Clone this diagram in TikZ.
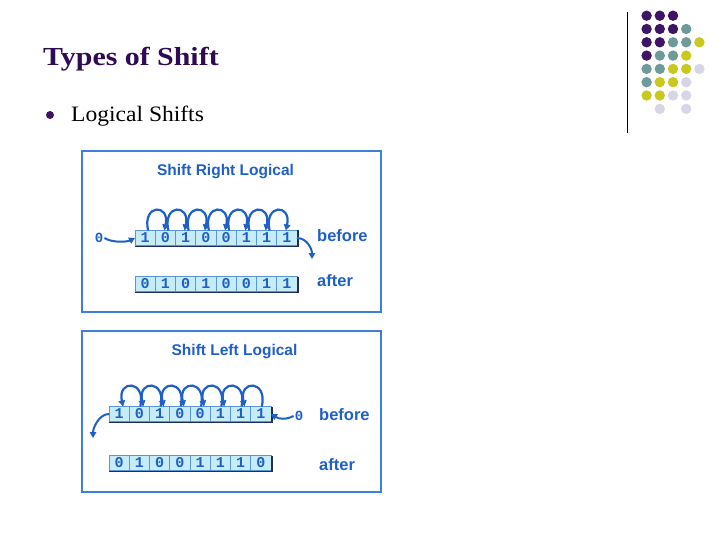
\documentclass[tikz,border=0pt]{standalone}
\usepackage{graphicx}
\usepackage{fontspec}
\setmainfont{Liberation Serif}
\setsansfont{Liberation Sans}
\setmonofont{Liberation Mono}
\usetikzlibrary{arrows.meta, positioning, calc}
\definecolor{slidepurple}{RGB}{46,11,85}
\definecolor{dotpurple}{RGB}{62,20,100}
\definecolor{dotteal}{RGB}{110,154,154}
\definecolor{dotyellow}{RGB}{200,200,30}
\definecolor{dotlav}{RGB}{214,214,230}
\definecolor{panelblue}{RGB}{58,128,220}
\definecolor{textblue}{RGB}{30,95,200}
\definecolor{cellfill}{RGB}{197,236,247}
\definecolor{cellline}{RGB}{90,150,215}
\definecolor{shadenavy}{RGB}{28,46,90}

\begin{document}
\begin{tikzpicture}[
    x=1pt, y=-1pt,
    panel/.style={rectangle, draw=panelblue, line width=2pt, fill=white,
                  inner sep=0pt},
    ptitle/.style={font=\sffamily\bfseries\fontsize{15.5}{18}\selectfont,
                   text=textblue, inner sep=0pt},
    tag/.style={font=\sffamily\bfseries\fontsize{16.5}{19}\selectfont,
                text=textblue, anchor=west, inner sep=0pt},
    cell/.style={rectangle, draw=cellline, fill=cellfill, line width=0.7pt,
                 minimum width=20.25pt, minimum height=15pt,
                 inner sep=0pt, outer sep=0pt,
                 font=\ttfamily\bfseries\fontsize{15}{15}\selectfont,
                 text=textblue},
    rowshade/.style={draw=shadenavy, line width=1.8pt},
    hop/.style={-{Triangle[length=6pt, width=6.5pt]}, line width=2.2pt,
                draw=textblue},
    feed/.style={-{Triangle[length=6pt, width=6.5pt]}, line width=2pt,
                 draw=textblue},
    zero/.style={font=\ttfamily\bfseries\fontsize{14}{14}\selectfont,
                 text=textblue, inner sep=1pt}
  ]
    \useasboundingbox (0,0) rectangle (720,540);

    % Slide heading
    \node[anchor=base west, inner sep=0pt, text=slidepurple,
          font=\bfseries\fontsize{26}{30}\selectfont] (heading) at (43,66)
          {\scalebox{1.15}[1]{Types of Shift}};
    \node[circle, fill=dotpurple, minimum size=8pt, inner sep=0pt] (bullet) at (50,115) {};
    \node[anchor=base west, inner sep=0pt, font=\fontsize{22}{26}\selectfont] (item) at (71,122)
          {\scalebox{1.07}[1]{Logical Shifts}};

    % Corner decoration
    \draw[line width=1pt] (627,12) -- (627,133);
    \foreach \r/\c/\col in {1/1/dotpurple, 1/2/dotpurple, 1/3/dotpurple,
        2/1/dotpurple, 2/2/dotpurple, 2/3/dotpurple, 2/4/dotteal,
        3/1/dotpurple, 3/2/dotpurple, 3/3/dotteal, 3/4/dotteal, 3/5/dotyellow,
        4/1/dotpurple, 4/2/dotteal, 4/3/dotteal, 4/4/dotyellow,
        5/1/dotteal, 5/2/dotteal, 5/3/dotyellow, 5/4/dotyellow, 5/5/dotlav,
        6/1/dotteal, 6/2/dotyellow, 6/3/dotyellow, 6/4/dotlav,
        7/1/dotyellow, 7/2/dotyellow, 7/3/dotlav, 7/4/dotlav,
        8/2/dotlav, 8/4/dotlav}
      \fill[\col] ({646.6+13.2*(\c-1)},{15.7+13.3*(\r-1)}) circle (5.2pt);

    % Panel 1 - Shift Right Logical
    \node[panel, minimum width=299pt, minimum height=161pt] (srlbox) at (231.5,231.5) {};
    \node[ptitle] (srltitle) at (225.5,172) {Shift Right Logical};

    \foreach \b [count=\i] in {1,0,1,0,0,1,1,1}
      \node[cell] (rb\i) at ({145.1+20.25*(\i-1)},238) {\b};
    \foreach \b [count=\i] in {0,1,0,1,0,0,1,1}
      \node[cell] (ra\i) at ({145.1+20.25*(\i-1)},284) {\b};
    \draw[rowshade] ([yshift=-1pt]rb1.south west) -- ([shift={(1pt,-1pt)}]rb8.south east) -- ([xshift=1pt]rb8.north east);
    \draw[rowshade] ([yshift=-1pt]ra1.south west) -- ([shift={(1pt,-1pt)}]ra8.south east) -- ([xshift=1pt]ra8.north east);

    \foreach \i [evaluate=\i as \j using int(\i+1)] in {1,...,7}
      \draw[hop] ([xshift=3pt]rb\i.north) .. controls +(-6,-27) and +(6,-27) .. ([xshift=-1pt]rb\j.north);

    \node[zero] (rzero) at (99,238) {0};
    \draw[feed] (rzero.east) .. controls +(8,5) and +(-8,4) .. (rb1.west);
    \coordinate (rdrop) at (312,259);
    \draw[feed] (rb8.east) .. controls +(10,0) and +(0,-10) .. (rdrop);

    \node[tag] (rbefore) at (317,236) {before};
    \node[tag] (rafter)  at (317,281) {after};

    % Panel 2 - Shift Left Logical
    \node[panel, minimum width=299pt, minimum height=161pt] (sllbox) at (231.5,411.5) {};
    \node[ptitle] (slltitle) at (234.5,351.5) {Shift Left Logical};

    \foreach \b [count=\i] in {1,0,1,0,0,1,1,1}
      \node[cell] (lb\i) at ({119.1+20.25*(\i-1)},414) {\b};
    \foreach \b [count=\i] in {0,1,0,0,1,1,1,0}
      \node[cell] (la\i) at ({119.1+20.25*(\i-1)},463) {\b};
    \draw[rowshade] ([yshift=-1pt]lb1.south west) -- ([shift={(1pt,-1pt)}]lb8.south east) -- ([xshift=1pt]lb8.north east);
    \draw[rowshade] ([yshift=-1pt]la1.south west) -- ([shift={(1pt,-1pt)}]la8.south east) -- ([xshift=1pt]la8.north east);

    \foreach \i [evaluate=\i as \j using int(\i+1)] in {1,...,7}
      \draw[hop] ([xshift=1pt]lb\j.north) .. controls +(6,-27) and +(-6,-27) .. ([xshift=4pt]lb\i.north);

    \node[zero] (lzero) at (299,416) {0};
    \draw[feed] (lzero.west) .. controls +(-8,4) and +(8,5) .. (lb8.east);
    \coordinate (ldrop) at (93,438);
    \draw[feed] (lb1.west) .. controls +(-10,0) and +(0,-10) .. (ldrop);

    \node[tag] (lbefore) at (319,415) {before};
    \node[tag] (lafter)  at (319,465) {after};

  \end{tikzpicture}
\end{document}
